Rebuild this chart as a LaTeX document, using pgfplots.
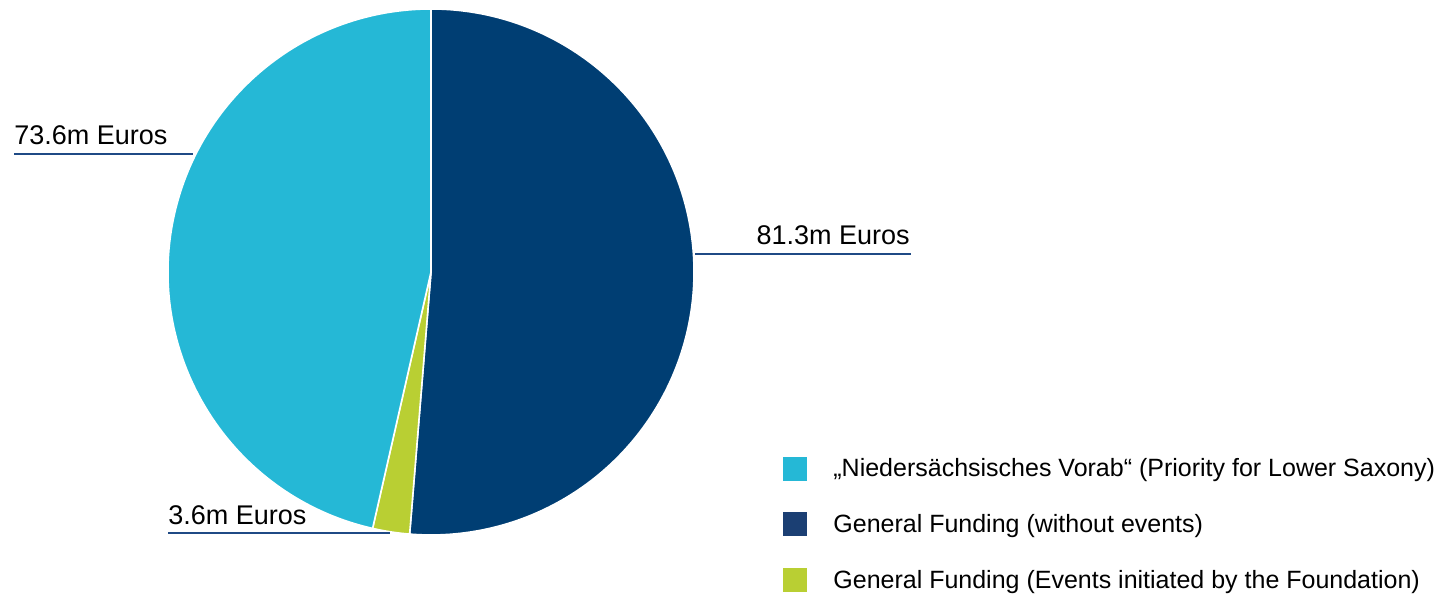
\documentclass[border=0pt]{standalone}
\usepackage{pgfplots}
\pgfplotsset{compat=1.18}
\usepackage{pgfplotstable}
\usepackage{fontspec}
\setmainfont{Liberation Sans}

\definecolor{cyanpie}{HTML}{25B8D6}
\definecolor{bluepie}{HTML}{003E73}
\definecolor{greenpie}{HTML}{B9CF33}
\definecolor{leader}{HTML}{1F4A85}
\definecolor{legblue}{HTML}{1B3F73}

% slice values (million Euros), drawn clockwise from 12 o'clock
\pgfplotstableread{
value
81.3
3.6
73.6
}\piedata

\begin{document}
\begin{tikzpicture}
  \pgfplotstablegetelem{0}{value}\of\piedata \let\va\pgfplotsretval
  \pgfplotstablegetelem{1}{value}\of\piedata \let\vb\pgfplotsretval
  \pgfplotstablegetelem{2}{value}\of\piedata \let\vc\pgfplotsretval
  \pgfmathsetmacro\tot{\va+\vb+\vc}
  \pgfmathsetmacro\aA{90}
  \pgfmathsetmacro\aB{\aA-360*(\va/\tot)}
  \pgfmathsetmacro\aC{\aB-360*(\vb/\tot)}
  \pgfmathsetmacro\aD{\aC-360*(\vc/\tot)}
  \def\R{131.5pt}
  \begin{axis}[
    x=0.5pt, y=0.5pt,
    xmin=0, xmax=1447, ymin=0, ymax=597,
    hide axis, clip=false,
    font=\fontsize{13.5}{16}\selectfont,
  ]
    % keep the full picture area
    \addplot[draw=none] coordinates {(0,0) (1447,597)};

    % slices
    \fill[bluepie, draw=white, line width=0.8pt] (axis cs:431,325) -- ++(\aA:\R)
      arc[start angle=\aA, end angle=\aB, radius=\R] -- cycle;
    \fill[greenpie, draw=white, line width=0.8pt] (axis cs:431,325) -- ++(\aB:\R)
      arc[start angle=\aB, end angle=\aC, radius=\R] -- cycle;
    \fill[cyanpie, draw=white, line width=0.8pt] (axis cs:431,325) -- ++(\aC:\R)
      arc[start angle=\aC, end angle=\aD, radius=\R] -- cycle;

    % leader lines and value labels
    \draw[leader, line width=1pt] (axis cs:14,443) -- (axis cs:193,443);
    \node[anchor=base west, inner sep=0pt] at (axis cs:14,452) {73.6m Euros};
    \draw[leader, line width=1pt] (axis cs:695,343) -- (axis cs:911,343);
    \node[anchor=base east, inner sep=0pt] at (axis cs:910,352) {81.3m Euros};
    \draw[leader, line width=1pt] (axis cs:168,64) -- (axis cs:390,64);
    \node[anchor=base west, inner sep=0pt] at (axis cs:168,72) {3.6m Euros};

    % legend
    \fill[cyanpie] (axis cs:783,116) rectangle (axis cs:807,140);
    \fill[legblue] (axis cs:783,61) rectangle (axis cs:807,85);
    \fill[greenpie] (axis cs:783,5) rectangle (axis cs:807,29);
    \begin{scope}[every node/.style={anchor=base west, inner sep=0pt,
        font=\fontsize{12.5}{15}\selectfont}]
      \node at (axis cs:833,120) {„Niedersächsisches Vorab“ (Priority for Lower Saxony)};
      \node at (axis cs:833,64) {General Funding (without events)};
      \node at (axis cs:833,8) {General Funding (Events initiated by the Foundation)};
    \end{scope}
  \end{axis}
\end{tikzpicture}
\end{document}
